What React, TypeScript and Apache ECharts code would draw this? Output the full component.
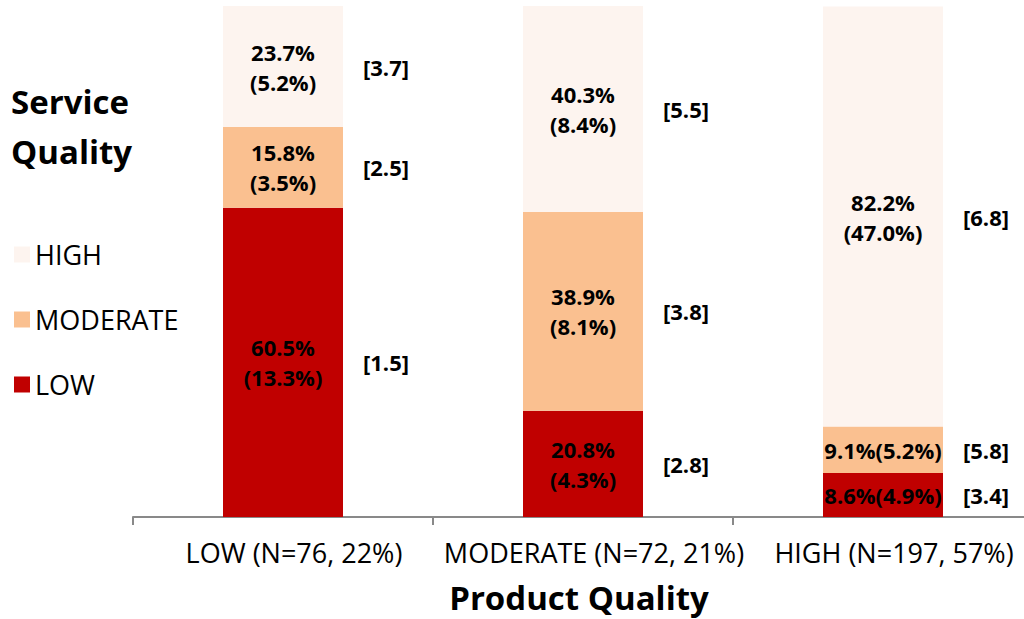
import React, { useEffect, useRef } from "react";
import * as echarts from "echarts";

// Product quality groups along the x axis
const categories = ["LOW (N=76, 22%)", "MODERATE (N=72, 21%)", "HIGH (N=197, 57%)"];

// Share of each service-quality level within a product-quality group (%)
const lowPct = [60.5, 20.8, 8.6];
const moderatePct = [15.8, 38.9, 9.1];
const highPct = [23.7, 40.3, 82.2];

// Share of the whole sample (%)
const lowTotal = [13.3, 4.3, 4.9];
const moderateTotal = [3.5, 8.1, 5.2];
const highTotal = [5.2, 8.4, 47.0];

// Bracketed scores shown beside each segment
const lowScore = [1.5, 2.8, 3.4];
const moderateScore = [2.5, 3.8, 5.8];
const highScore = [3.7, 5.5, 6.8];

const levelNames = ["LOW", "MODERATE", "HIGH"];
const levelColors = ["#C00000", "#FAC090", "#FDF4EF"];

const FONT = "'Open Sans', sans-serif";

export default function App() {
  const ref = useRef<HTMLDivElement>(null);

  useEffect(() => {
    if (!ref.current) return;
    const chart = echarts.init(ref.current, null, { renderer: "svg" });

    const pcts = [lowPct, moderatePct, highPct];
    const totals = [lowTotal, moderateTotal, highTotal];
    const scores = [lowScore, moderateScore, highScore];

    const barSeries = levelNames.map((name, s) => ({
      name,
      type: "bar",
      stack: "total",
      barWidth: 120,
      itemStyle: { color: levelColors[s] },
      data: pcts[s],
      label: {
        show: true,
        position: "inside",
        fontFamily: FONT,
        fontWeight: "bold",
        fontSize: 22,
        lineHeight: 30,
        color: "#000",
        formatter: (p: any) => {
          const v = pcts[s][p.dataIndex];
          const t = totals[s][p.dataIndex];
          const sep = v < 15 ? "" : "\n";
          return `${v.toFixed(1)}%${sep}(${t.toFixed(1)}%)`;
        },
      },
    }));

    // Score labels sit at the vertical middle of each stacked segment
    const scorePoints: any[] = [];
    categories.forEach((_, i) => {
      let base = 0;
      for (let s = 0; s < 3; s++) {
        const v = pcts[s][i];
        scorePoints.push({ value: [i, base + v / 2], score: scores[s][i] });
        base += v;
      }
    });

    chart.setOption({
      animation: false,
      title: {
        text: "Service\nQuality",
        left: 11,
        top: 76,
        padding: 0,
        textStyle: {
          fontFamily: FONT,
          fontWeight: "bold",
          fontSize: 33,
          lineHeight: 50,
          color: "#000",
        },
      },
      legend: {
        data: ["HIGH", "MODERATE", "LOW"],
        orient: "vertical",
        left: 14,
        top: 241,
        padding: 0,
        icon: "rect",
        itemWidth: 16,
        itemHeight: 16,
        itemGap: 38,
        selectedMode: false,
        textStyle: { fontFamily: FONT, fontSize: 27, lineHeight: 27, color: "#000" },
      },
      // the last category runs a little past the visible right edge
      grid: { left: 133, right: 0, top: 6, bottom: 102 },
      xAxis: {
        type: "category",
        data: categories,
        axisLine: { lineStyle: { color: "#898989", width: 2 } },
        axisTick: { show: true, length: 8, interval: 0, lineStyle: { color: "#898989", width: 2 } },
        axisLabel: {
          interval: 0,
          margin: 22,
          padding: [0, 0, 0, 22],
          fontFamily: FONT,
          fontSize: 27,
          lineHeight: 27,
          color: "#000",
        },
        name: "Product Quality",
        nameLocation: "middle",
        nameGap: 64,
        nameTextStyle: {
          fontFamily: FONT,
          fontWeight: "bold",
          fontSize: 33,
          lineHeight: 33,
          color: "#000",
          padding: [0, 8, 0, 0],
        },
      },
      yAxis: { type: "value", min: 0, max: 100, show: false },
      series: [
        ...barSeries,
        {
          name: "score",
          type: "scatter",
          symbolSize: 0,
          silent: true,
          itemStyle: { opacity: 1, color: "#000" },
          data: scorePoints,
          label: {
            show: true,
            position: "right",
            distance: 80,
            fontFamily: FONT,
            fontWeight: "bold",
            fontSize: 22,
            color: "#000",
            opacity: 1,
            formatter: (p: any) => `[${p.data.score.toFixed(1)}]`,
          },
        },
      ],
    });

    return () => chart.dispose();
  }, []);

  return (
    <div
      ref={ref}
      style={{ position: "fixed", left: 0, top: 0, width: 1033, height: 619, background: "#fff" }}
    />
  );
}
